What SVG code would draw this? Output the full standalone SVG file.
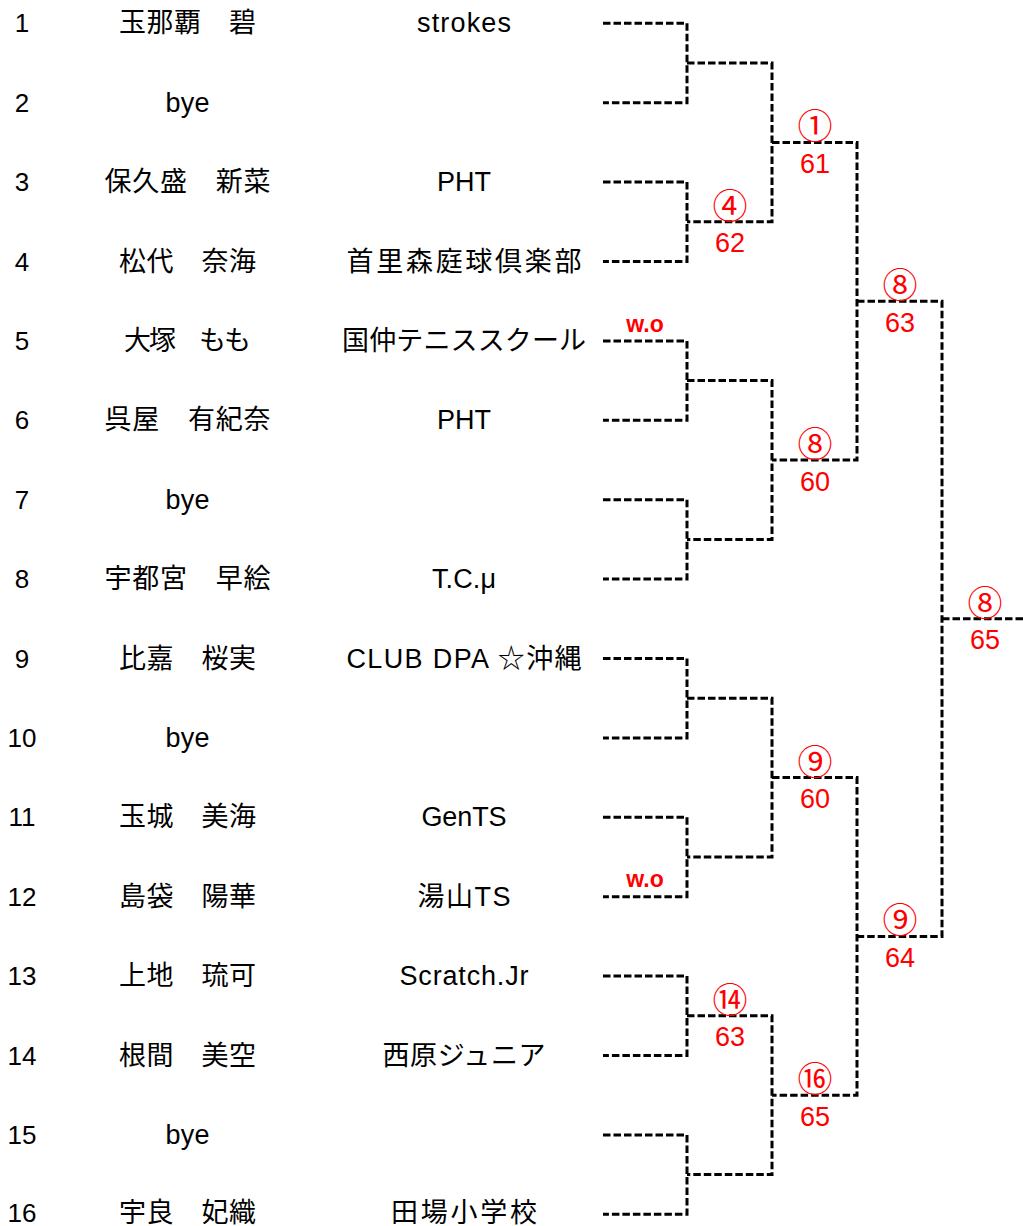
<svg xmlns="http://www.w3.org/2000/svg" width="1023" height="1226" viewBox="0 0 1023 1226">
<style>
.t{font-family:"Liberation Sans","Noto Sans CJK JP",sans-serif;font-size:27px;fill:#000;text-anchor:middle}
.n{font-family:"Liberation Sans",sans-serif;font-size:26px;fill:#000;text-anchor:middle}
.c{font-family:"Noto Sans CJK JP",sans-serif;font-size:35px;fill:#ff0000;text-anchor:middle;dominant-baseline:central}
.s{font-family:"Liberation Sans",sans-serif;font-size:27px;fill:#ff0000;text-anchor:middle}
.w{font-family:"Liberation Sans",sans-serif;font-size:23px;font-weight:bold;fill:#ff0000;text-anchor:middle}
.ln{fill:none;stroke:#000;stroke-width:3;stroke-dasharray:7.5 3}
</style>
<rect width="1023" height="1226" fill="#fff"/>
<g id="connectors">
<path class="ln" d="M603,23.3H687V102.7H603"/>
<path class="ln" d="M603,182.1H687V261.5H603"/>
<path class="ln" d="M603,340.9H687V420.3H603"/>
<path class="ln" d="M603,499.7H687V579.1H603"/>
<path class="ln" d="M603,658.5H687V737.9H603"/>
<path class="ln" d="M603,817.3H687V896.7H603"/>
<path class="ln" d="M603,976.1H687V1055.5H603"/>
<path class="ln" d="M603,1134.9H687V1214.3H603"/>
<path class="ln" d="M687,63H772V221.8H687"/>
<path class="ln" d="M687,380.6H772V539.4H687"/>
<path class="ln" d="M687,698.2H772V857H687"/>
<path class="ln" d="M687,1015.8H772V1174.6H687"/>
<path class="ln" d="M772,142.4H857V460H772"/>
<path class="ln" d="M772,777.6H857V1095.2H772"/>
<path class="ln" d="M857,301.2H942V936.4H857"/>
<path class="ln" d="M942,618.8H1023"/>
</g>
<g id="p1"><text class="n" x="22" y="32.3">1</text><text class="t" x="187.5" y="32.3" textLength="137">玉那覇　碧</text><text class="t" x="464" y="32.3" textLength="94">strokes</text></g>
<g id="p2"><text class="n" x="22" y="111.7">2</text><text class="t" x="187.5" y="111.7" textLength="44">bye</text></g>
<g id="p3"><text class="n" x="22" y="191.1">3</text><text class="t" x="187.5" y="191.1" textLength="166">保久盛　新菜</text><text class="t" x="464" y="191.1" textLength="54">PHT</text></g>
<g id="p4"><text class="n" x="22" y="270.5">4</text><text class="t" x="187.5" y="270.5" textLength="137">松代　奈海</text><text class="t" x="464" y="270.5" textLength="235">首里森庭球倶楽部</text></g>
<g id="p5"><text class="n" x="22" y="349.9">5</text><text class="t" x="187.5" y="349.9" textLength="127">大塚　もも</text><text class="t" x="464" y="349.9" textLength="244">国仲テニススクール</text><text class="w" x="645" y="331.5">w.o</text></g>
<g id="p6"><text class="n" x="22" y="429.3">6</text><text class="t" x="187.5" y="429.3" textLength="166">呉屋　有紀奈</text><text class="t" x="464" y="429.3" textLength="54">PHT</text></g>
<g id="p7"><text class="n" x="22" y="508.7">7</text><text class="t" x="187.5" y="508.7" textLength="44">bye</text></g>
<g id="p8"><text class="n" x="22" y="588.1">8</text><text class="t" x="187.5" y="588.1" textLength="166">宇都宮　早絵</text><text class="t" x="464" y="588.1" textLength="64">T.C.μ</text></g>
<g id="p9"><text class="n" x="22" y="667.5">9</text><text class="t" x="187.5" y="667.5" textLength="137">比嘉　桜実</text><text class="t" x="464" y="667.5" textLength="235">CLUB DPA ☆沖縄</text></g>
<g id="p10"><text class="n" x="22" y="746.9">10</text><text class="t" x="187.5" y="746.9" textLength="44">bye</text></g>
<g id="p11"><text class="n" x="22" y="826.3">11</text><text class="t" x="187.5" y="826.3" textLength="137">玉城　美海</text><text class="t" x="464" y="826.3" textLength="85">GenTS</text></g>
<g id="p12"><text class="n" x="22" y="905.7">12</text><text class="t" x="187.5" y="905.7" textLength="137">島袋　陽華</text><text class="t" x="464" y="905.7" textLength="93">湯山TS</text><text class="w" x="645" y="887">w.o</text></g>
<g id="p13"><text class="n" x="22" y="985.1">13</text><text class="t" x="187.5" y="985.1" textLength="137">上地　琉可</text><text class="t" x="464" y="985.1" textLength="129">Scratch.Jr</text></g>
<g id="p14"><text class="n" x="22" y="1064.5">14</text><text class="t" x="187.5" y="1064.5" textLength="137">根間　美空</text><text class="t" x="464" y="1064.5" textLength="163">西原ジュニア</text></g>
<g id="p15"><text class="n" x="22" y="1143.9">15</text><text class="t" x="187.5" y="1143.9" textLength="44">bye</text></g>
<g id="p16"><text class="n" x="22" y="1221.5">16</text><text class="t" x="187.5" y="1221.5" textLength="137">宇良　妃織</text><text class="t" x="464" y="1221.5" textLength="146">田場小学校</text></g>
<g id="m-r2-a"><text class="c" x="730" y="203.3">④</text><text class="s" x="730" y="252.3">62</text></g>
<g id="m-r2-b"><text class="c" x="730" y="997.3">⑭</text><text class="s" x="730" y="1046.3">63</text></g>
<g id="m-r3-a"><text class="c" x="815" y="123.9">①</text><text class="s" x="815" y="172.9">61</text></g>
<g id="m-r3-b"><text class="c" x="815" y="441.5">⑧</text><text class="s" x="815" y="490.5">60</text></g>
<g id="m-r3-c"><text class="c" x="815" y="759.1">⑨</text><text class="s" x="815" y="808.1">60</text></g>
<g id="m-r3-d"><text class="c" x="815" y="1076.7">⑯</text><text class="s" x="815" y="1125.7">65</text></g>
<g id="m-r4-a"><text class="c" x="900" y="282.7">⑧</text><text class="s" x="900" y="331.7">63</text></g>
<g id="m-r4-b"><text class="c" x="900" y="917.9">⑨</text><text class="s" x="900" y="966.9">64</text></g>
<g id="m-final"><text class="c" x="985" y="600.3">⑧</text><text class="s" x="985" y="649.3">65</text></g>
</svg>
